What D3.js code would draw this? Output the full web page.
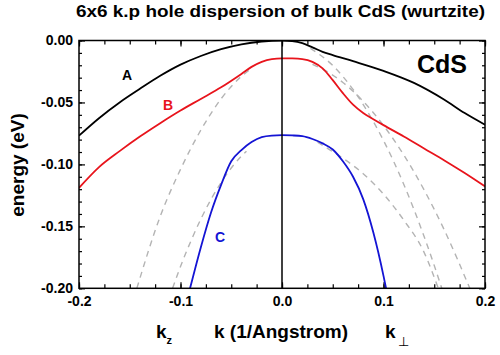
<!DOCTYPE html>
<html>
<head>
<meta charset="utf-8">
<script src="https://cdn.jsdelivr.net/npm/d3@7"></script>
<style>
  body { margin: 0; background: #fff; }
  svg { display: block; font-family: Arial, "Liberation Sans", Helvetica, sans-serif; }
  .axis path { display: none; }
  .axis line { stroke: #000; stroke-width: 1.2; }
  .axis text { font-size: 14px; font-weight: bold; fill: #000; }
</style>
</head>
<body>
<svg id="chart" width="500" height="355"></svg>
<script>
// ---------------- data ----------------
const title = "6x6 k.p hole dispersion of bulk CdS (wurtzite)";
const xTickLabels = [-0.2, -0.1, 0.0, 0.1, 0.2];
const yTickLabels = [0.00, -0.05, -0.10, -0.15, -0.20];

// band A (heavy hole), k<0 : k_z , k>0 : k_perp
const kA = [-0.2, -0.18, -0.16, -0.14, -0.12, -0.1, -0.08, -0.06, -0.04, -0.02, 0,
            0.01, 0.02, 0.03, 0.04, 0.05, 0.07, 0.1, 0.13, 0.16, 0.18, 0.2];
const eA = [-0.0768, -0.0625, -0.0500, -0.0390, -0.0285, -0.0195, -0.0125, -0.0070, -0.0031, -0.0008, 0,
            -0.0005, -0.0022, -0.0055, -0.0092, -0.0118, -0.0167, -0.0245, -0.0342, -0.0478, -0.0586, -0.0680];

// band B
const kB = [-0.2, -0.18, -0.16, -0.14, -0.12, -0.1, -0.08, -0.06, -0.04, -0.03, -0.02, -0.01, 0,
            0.01, 0.02, 0.03, 0.04, 0.05, 0.06, 0.07, 0.08, 0.09, 0.1, 0.12, 0.14, 0.16, 0.18, 0.2];
const eB = [-0.1190, -0.1020, -0.0893, -0.0775, -0.0667, -0.0565, -0.0472, -0.0378, -0.0270, -0.0213, -0.0172, -0.0150, -0.0144,
            -0.0145, -0.0150, -0.0172, -0.0225, -0.0320, -0.0425, -0.0518, -0.0585, -0.0635, -0.0683, -0.0775, -0.0872, -0.0968, -0.1070, -0.1178];

// band C
const kC = [-0.0906, -0.08, -0.07, -0.06, -0.05, -0.04, -0.03, -0.02, -0.01, 0,
            0.01, 0.02, 0.03, 0.04, 0.05, 0.06, 0.07, 0.08, 0.09, 0.1, 0.1025];
const eC = [-0.2000, -0.1670, -0.1390, -0.1165, -0.0975, -0.0885, -0.0820, -0.0779, -0.0767, -0.0764,
            -0.0766, -0.0772, -0.0795, -0.0830, -0.0880, -0.0975, -0.1100, -0.1280, -0.1550, -0.1900, -0.2000];

// dashed parabolic approximations
const kD1 = [-0.143, -0.12, -0.1, -0.08, -0.06, -0.04, -0.03];
const eD1 = [-0.2000, -0.1420, -0.1040, -0.0724, -0.0471, -0.0289, -0.0226];

const kD2 = [-0.1078, -0.1, -0.09, -0.08, -0.07, -0.06, -0.05, -0.04, -0.035];
const eD2 = [-0.2000, -0.1824, -0.1623, -0.1442, -0.1283, -0.1146, -0.1029, -0.0934, -0.0894];

const kDa = [0.028, 0.05, 0.07, 0.09, 0.11, 0.13, 0.15, 0.1574];
const eDa = [-0.0063, -0.0202, -0.0395, -0.0654, -0.0976, -0.1364, -0.1816, -0.2000];

const kDb = [0.03, 0.04, 0.06, 0.08, 0.1, 0.12, 0.14, 0.16, 0.185];
const eDb = [-0.0193, -0.0231, -0.0339, -0.0491, -0.0686, -0.0924, -0.1206, -0.1531, -0.2000];

const kDc = [0.035, 0.04, 0.06, 0.08, 0.1, 0.12, 0.14, 0.154];
const eDc = [-0.0820, -0.0846, -0.0950, -0.1075, -0.1240, -0.1450, -0.1710, -0.2000];

// ---------------- drawing ----------------
const svg = d3.select("#chart");
const X0 = 79, X1 = 485, Y0 = 40.5, Y1 = 288.3;
const x = d3.scaleLinear().domain([-0.2, 0.2]).range([X0, X1]);
const y = d3.scaleLinear().domain([-0.2, 0.0]).range([Y1, Y0]);

svg.append("defs").append("clipPath").attr("id", "clip")
  .append("rect").attr("x", X0).attr("y", Y0).attr("width", X1 - X0).attr("height", Y1 - Y0);

const fmtX = d => (Math.abs(d) < 1e-9 ? 0 : d).toFixed(1);
const fmtY = d => (Math.abs(d) < 1e-9 ? 0 : d).toFixed(2);
const xMinor = d3.range(-8, 9).map(i => i * 0.025);
const yMinor = d3.range(-20, 1).map(i => i * 0.01);

// bottom
svg.append("g").attr("class", "axis").attr("transform", `translate(0,${Y1})`)
  .call(d3.axisBottom(x).tickValues(xMinor).tickSize(-4).tickFormat(""));
svg.append("g").attr("class", "axis").attr("transform", `translate(0,${Y1})`)
  .call(d3.axisBottom(x).tickValues(xTickLabels).tickSize(-6).tickPadding(8).tickFormat(fmtX));
// top
svg.append("g").attr("class", "axis").attr("transform", `translate(0,${Y0})`)
  .call(d3.axisTop(x).tickValues(xMinor).tickSize(-4).tickFormat(""));
svg.append("g").attr("class", "axis").attr("transform", `translate(0,${Y0})`)
  .call(d3.axisTop(x).tickValues(xTickLabels).tickSize(-6).tickFormat(""));
// left
svg.append("g").attr("class", "axis").attr("transform", `translate(${X0},0)`)
  .call(d3.axisLeft(y).tickValues(yMinor).tickSize(-3).tickFormat(""));
svg.append("g").attr("class", "axis").attr("transform", `translate(${X0},0)`)
  .call(d3.axisLeft(y).tickValues(yTickLabels).tickSize(-6).tickPadding(6).tickFormat(fmtY));
// right
svg.append("g").attr("class", "axis").attr("transform", `translate(${X1},0)`)
  .call(d3.axisRight(y).tickValues(yMinor).tickSize(-3).tickFormat(""));
svg.append("g").attr("class", "axis").attr("transform", `translate(${X1},0)`)
  .call(d3.axisRight(y).tickValues(yTickLabels).tickSize(-6).tickFormat(""));

const plot = svg.append("g").attr("clip-path", "url(#clip)");
const line = d3.line().x(d => x(d[0])).y(d => y(d[1])).curve(d3.curveMonotoneX);
const zip = (ks, es) => ks.map((k, i) => [k, es[i]]);

// dashed
[[kD1, eD1], [kD2, eD2], [kDa, eDa], [kDb, eDb], [kDc, eDc]].forEach(([ks, es]) => {
  plot.append("path").datum(zip(ks, es)).attr("d", line)
    .attr("fill", "none").attr("stroke", "#b4b4b4").attr("stroke-width", 1.4)
    .attr("stroke-dasharray", "6,5");
});

// solid bands
[[kA, eA, "#000000"], [kB, eB, "#e8141c"], [kC, eC, "#1414d4"]].forEach(([ks, es, c]) => {
  plot.append("path").datum(zip(ks, es)).attr("d", line)
    .attr("fill", "none").attr("stroke", c).attr("stroke-width", 1.8);
});

// k=0 divider
svg.append("line").attr("x1", x(0)).attr("x2", x(0)).attr("y1", Y0).attr("y2", Y1)
  .attr("stroke", "#000").attr("stroke-width", 1.5);

// frame
svg.append("rect").attr("x", X0).attr("y", Y0).attr("width", X1 - X0).attr("height", Y1 - Y0)
  .attr("fill", "none").attr("stroke", "#000").attr("stroke-width", 1.5);

// texts
svg.append("text").attr("x", 280.5).attr("y", 17).attr("text-anchor", "middle")
  .attr("textLength", 409).attr("lengthAdjust", "spacingAndGlyphs")
  .style("font-size", "16.5px").style("font-weight", "bold").text(title);

svg.append("text").attr("transform", "translate(24,165) rotate(-90)").attr("text-anchor", "middle")
  .style("font-size", "19px").style("font-weight", "bold").text("energy (eV)");

svg.append("text").attr("x", 281).attr("y", 338).attr("text-anchor", "middle")
  .style("font-size", "19px").style("font-weight", "bold").text("k (1/Angstrom)");

const kz = svg.append("text").attr("x", 156).attr("y", 338).style("font-size", "19px").style("font-weight", "bold");
kz.append("tspan").text("k");
kz.append("tspan").attr("dy", 6).style("font-size", "11px").text("z");

const kp = svg.append("text").attr("x", 385).attr("y", 338).style("font-size", "19px").style("font-weight", "bold");
kp.append("tspan").text("k");
kp.append("tspan").attr("dx", 2).attr("dy", 8).style("font-size", "13px").style("font-weight", "normal").text("⊥");

svg.append("text").attr("x", 442).attr("y", 73).attr("text-anchor", "middle")
  .style("font-size", "25px").style("font-weight", "bold").text("CdS");

svg.append("text").attr("x", 127).attr("y", 80).attr("text-anchor", "middle")
  .style("font-size", "14px").style("font-weight", "bold").attr("fill", "#000").text("A");
svg.append("text").attr("x", 168).attr("y", 110).attr("text-anchor", "middle")
  .style("font-size", "14px").style("font-weight", "bold").attr("fill", "#e8141c").text("B");
svg.append("text").attr("x", 220).attr("y", 242).attr("text-anchor", "middle")
  .style("font-size", "14px").style("font-weight", "bold").attr("fill", "#1414d4").text("C");
</script>
</body>
</html>
